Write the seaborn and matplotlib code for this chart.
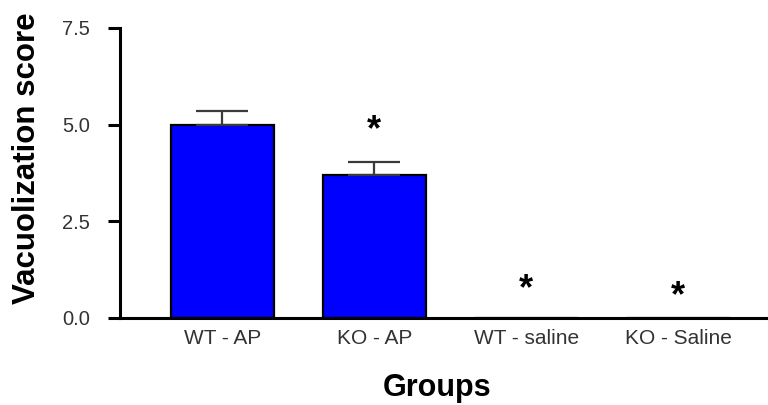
import matplotlib
matplotlib.use("Agg")
import matplotlib.pyplot as plt
import numpy as np
import pandas as pd
import seaborn as sns

sns.set_style("ticks")
plt.rcParams["font.family"] = ["Liberation Sans", "DejaVu Sans"]

# Values.
groups = ["WT - AP", "KO - AP", "WT - saline", "KO - Saline"]
means = [5.0, 3.7, 0.0, 0.0]
sem = [0.34, 0.34, 0.0, 0.0]
# Significance stars (group, height in score units).
star_groups = ["KO - AP", "WT - saline", "KO - Saline"]
star_heights = [4.85, 0.72, 0.54]

data = pd.DataFrame({"Group": groups, "Score": means, "SEM": sem})

fig = plt.figure(figsize=(7.68, 4.05), dpi=100)
ax = fig.add_axes([0.156, 0.215, 0.844, 0.716])

sns.barplot(
    x="Group", y="Score", data=data,
    color="#0000ff", saturation=1, width=0.68,
    edgecolor="black", linewidth=1.6, errorbar=None, ax=ax
)

# One-sided SEM bars, only where there is a bar.
has_err = data["SEM"] > 0
xpos = np.arange(len(groups))[has_err.values]
ax.errorbar(
    xpos, data.loc[has_err, "Score"],
    yerr=[np.zeros(has_err.sum()), data.loc[has_err, "SEM"]],
    fmt="none", ecolor="#3a3a3a", elinewidth=1.6,
    capsize=18.5, capthick=1.6, zorder=1
)

for g, h in zip(star_groups, star_heights):
    ax.text(
        groups.index(g), h, "*", ha="center", va="center",
        fontsize=26, fontweight="bold", color="black"
    )

ax.set_xlim(-0.674, 3.59)
ax.set_ylim(0, 7.5)
ax.set_yticks([0.0, 2.5, 5.0, 7.5])
ax.set_yticklabels(["0.0", "2.5", "5.0", "7.5"])

sns.despine(ax=ax)
ax.spines["left"].set_linewidth(2.2)
ax.spines["bottom"].set_linewidth(2.2)
ax.spines["left"].set_color("black")
ax.spines["bottom"].set_color("black")
ax.tick_params(axis="y", length=8.5, width=2.2, pad=13, color="black",
               labelsize=14.5, labelcolor="#333333")
ax.tick_params(axis="x", length=0, pad=8,
               labelsize=15, labelcolor="#333333")

ax.set_xlabel("Groups", fontsize=22, fontweight="bold", color="black")
ax.xaxis.set_label_coords(0.489, -0.19)
ax.set_ylabel("Vacuolization score", fontsize=22.5, fontweight="bold",
              color="black", va="center", ha="center")
ax.yaxis.set_label_coords(-0.1435, 0.55)

fig.savefig("out.png", dpi=100)
